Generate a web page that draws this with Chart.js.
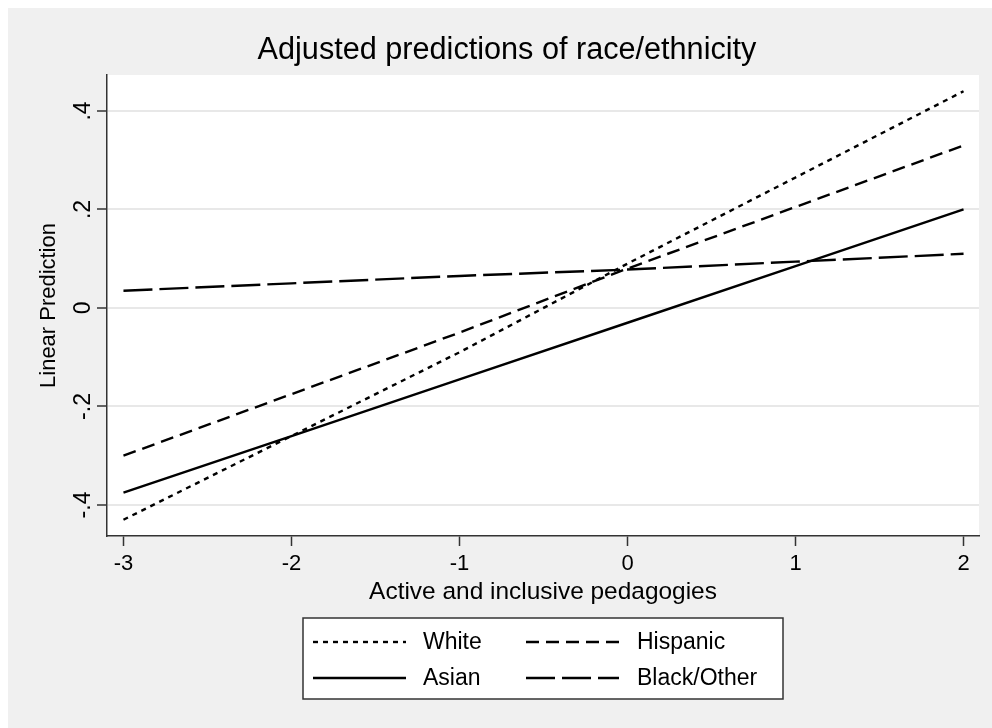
<!DOCTYPE html>
<html>
<head>
<meta charset="utf-8">
<script src="https://cdn.jsdelivr.net/npm/chart.js@4.4.0/dist/chart.umd.min.js"></script>
<style>
html,body{margin:0;padding:0;background:#fff;}
#wrap{width:992px;height:728px;position:relative;}
</style>
</head>
<body>
<div id="wrap"><canvas id="c"></canvas></div>
<script>
// ---- data ----
const xValues = [-3, -2, -1, 0, 1, 2];
const whiteVals = [-0.43, -0.26, -0.09, 0.09, 0.265, 0.44];
const hispanicVals = [-0.30, -0.175, -0.05, 0.08, 0.205, 0.33];
const asianVals = [-0.375, -0.26, -0.145, -0.03, 0.085, 0.20];
const blackVals = [0.035, 0.05, 0.065, 0.078, 0.094, 0.11];
const seriesNames = ['White', 'Hispanic', 'Asian', 'Black/Other'];
const xTickValues = [-3, -2, -1, 0, 1, 2];
const xTickLabels = ['-3', '-2', '-1', '0', '1', '2'];
const yTickValues = [-0.4, -0.2, 0, 0.2, 0.4];
const yTickLabels = ['-.4', '-.2', '0', '.2', '.4'];
const titleText = 'Adjusted predictions of race/ethnicity';
const xTitle = 'Active and inclusive pedagogies';
const yTitle = 'Linear Prediction';

const FONT = '"Liberation Sans", Arial, sans-serif';
const dashes = [[5, 5], [13, 7], [], [29, 7]];
const allVals = [whiteVals, hispanicVals, asianVals, blackVals];

const datasets = allVals.map((vals, i) => ({
  label: seriesNames[i],
  data: xValues.map((x, j) => ({x: x, y: vals[j]})),
  borderColor: '#000',
  borderWidth: 2.4,
  borderDash: dashes[i],
  pointRadius: 0,
  tension: 0,
  fill: false
}));

function fitFont(ctx, text, width) {
  ctx.font = '100px ' + FONT;
  const w = ctx.measureText(text).width;
  return 100 * width / w;
}

const decor = {
  id: 'decor',
  beforeDraw(chart) {
    const ctx = chart.ctx, a = chart.chartArea;
    ctx.save();
    ctx.fillStyle = '#ffffff';
    ctx.fillRect(0, 0, chart.width, chart.height);
    ctx.fillStyle = '#f0f0f0';
    ctx.fillRect(8, 8, chart.width - 8, chart.height - 8);
    ctx.fillStyle = '#ffffff';
    ctx.fillRect(a.left, a.top, a.right - a.left, a.bottom - a.top);
    ctx.restore();
  },
  afterDraw(chart) {
    const ctx = chart.ctx, a = chart.chartArea;
    const ys = chart.scales.y;
    ctx.save();
    ctx.fillStyle = '#000';
    // title
    let fs = fitFont(ctx, titleText, 499);
    ctx.font = fs + 'px ' + FONT;
    ctx.textAlign = 'center';
    ctx.textBaseline = 'middle';
    ctx.fillText(titleText, 507, 51);
    // x title
    fs = fitFont(ctx, xTitle, 348);
    ctx.font = fs + 'px ' + FONT;
    ctx.fillText(xTitle, (a.left + a.right) / 2, 592);
    // y tick labels rotated
    ctx.font = '23px ' + FONT;
    yTickValues.forEach((v, i) => {
      const py = ys.getPixelForValue(v);
      ctx.save();
      ctx.translate(84, py);
      ctx.rotate(-Math.PI / 2);
      ctx.fillText(yTickLabels[i], 0, 0);
      ctx.restore();
    });
    // y title
    fs = fitFont(ctx, yTitle, 165);
    ctx.save();
    ctx.font = fs + 'px ' + FONT;
    ctx.translate(49, (a.top + a.bottom) / 2);
    ctx.rotate(-Math.PI / 2);
    ctx.fillText(yTitle, 0, 0);
    ctx.restore();
    // legend
    const bx = 303, by = 618, bw = 480, bh = 81;
    ctx.fillStyle = '#fff';
    ctx.fillRect(bx, by, bw, bh);
    ctx.strokeStyle = '#333';
    ctx.lineWidth = 1.5;
    ctx.strokeRect(bx, by, bw, bh);
    const cols = [[313, 406, 423], [526, 619, 637]];
    const rows = [642, 678];
    const order = [0, 1, 2, 3];
    ctx.font = '23px ' + FONT;
    ctx.textAlign = 'left';
    order.forEach((di, k) => {
      const c = cols[k % 2], r = rows[Math.floor(k / 2)];
      const ds = chart.data.datasets[di];
      ctx.save();
      ctx.strokeStyle = '#000';
      ctx.lineWidth = 2.4;
      ctx.setLineDash(ds.borderDash);
      ctx.beginPath();
      ctx.moveTo(c[0], r);
      ctx.lineTo(c[1], r);
      ctx.stroke();
      ctx.restore();
      ctx.fillStyle = '#000';
      ctx.fillText(ds.label, c[2], r + 1);
    });
    ctx.restore();
  }
};

new Chart(document.getElementById('c'), {
  type: 'line',
  data: {datasets: datasets},
  options: {
    responsive: true,
    maintainAspectRatio: false,
    animation: false,
    layout: {padding: {top: 75, right: 13, left: 0, bottom: 0}},
    plugins: {legend: {display: false}, title: {display: false}, tooltip: {enabled: false}},
    scales: {
      x: {
        type: 'linear',
        min: -3.098, max: 2.092,
        afterFit(s) { s.height = 192; },
        afterBuildTicks(s) { s.ticks = xTickValues.map(v => ({value: v})); },
        grid: {drawOnChartArea: false, tickColor: '#333', tickLength: 10, tickWidth: 1.5},
        border: {color: '#333', width: 1.5},
        ticks: {
          color: '#000', padding: 5, maxRotation: 0, autoSkip: false,
          font: {family: FONT, size: 22},
          callback(v) { const i = xTickValues.indexOf(v); return i >= 0 ? xTickLabels[i] : ''; }
        }
      },
      y: {
        type: 'linear',
        min: -0.463, max: 0.473,
        afterFit(s) { s.width = 107; },
        afterBuildTicks(s) { s.ticks = yTickValues.map(v => ({value: v})); },
        grid: {color: '#e8e8e8', lineWidth: 2, tickColor: '#333', tickLength: 10, tickWidth: 1.5},
        border: {color: '#333', width: 1.5},
        ticks: {display: false}
      }
    }
  },
  plugins: [decor]
});
</script>
</body>
</html>
